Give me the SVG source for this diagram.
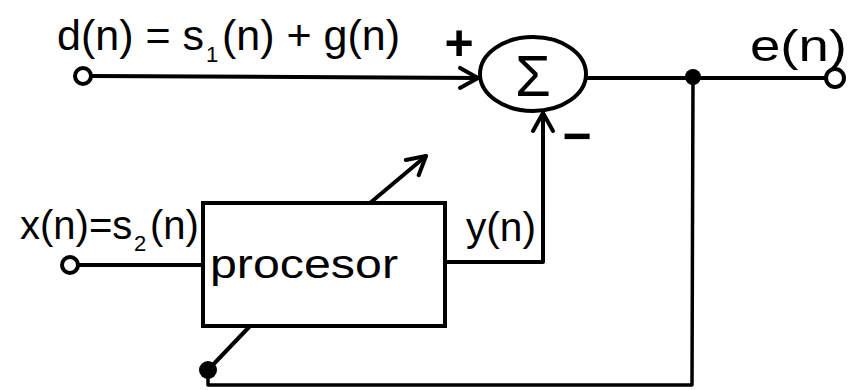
<svg xmlns="http://www.w3.org/2000/svg" width="863" height="390" viewBox="0 0 863 390">
<style>
.ln{fill:none;stroke:#000;stroke-width:4;stroke-linecap:round;stroke-linejoin:round}
.port{fill:#fff;stroke:#000;stroke-width:4}
.dot{fill:#000}
.lbl{font-family:"Liberation Sans","DejaVu Sans",sans-serif;fill:#000}
</style>
<defs>
<marker id="arr" markerUnits="userSpaceOnUse" markerWidth="40" markerHeight="40" viewBox="-30 -20 40 40" refX="0" refY="0" orient="auto">
<path d="M-18,-10 L0,0 L-18,10" fill="none" stroke="#000" stroke-width="4" stroke-linecap="round" stroke-linejoin="round"/>
</marker>
</defs>
<rect width="863" height="390" fill="#fff"/>
<g id="connectors">
<path class="ln" d="M91,76 L478,78" marker-end="url(#arr)"/>
<path class="ln" d="M587,78 L826,78"/>
<path class="ln" d="M445,262 L543,262 L543,113" marker-end="url(#arr)"/>
<path class="ln" d="M78,265 L203,265"/>
<path class="ln" d="M693,77 L692,385 L208,385 L208,372" style="stroke-width:3.5"/>
<path class="ln" d="M208,370 L250,326"/>
<path class="ln" d="M370,203 L426,156" marker-end="url(#arr)"/>
</g>
<g id="input-d">
<circle class="port" cx="83" cy="76" r="8"/>
<text class="lbl" x="57" y="50" font-size="43">d(n) = s</text>
<text class="lbl" x="206" y="62" font-size="22">1</text>
<text class="lbl" x="222" y="50" font-size="43">(n) + g(n)</text>
</g>
<g id="sum">
<ellipse cx="533" cy="74" rx="53" ry="37" fill="none" stroke="#000" stroke-width="4"/>
<text class="lbl" x="533" y="96" font-size="58" text-anchor="middle">Σ</text>
<text class="lbl" x="459" y="60" font-size="50" font-weight="bold" text-anchor="middle">+</text>
<text class="lbl" x="577" y="153" font-size="50" font-weight="bold" text-anchor="middle">−</text>
</g>
<g id="junction">
<circle class="dot" cx="693" cy="77" r="8"/>
</g>
<g id="output-e">
<circle class="port" cx="835" cy="78" r="9"/>
<text class="lbl" x="750" y="61" font-size="44" textLength="97" lengthAdjust="spacingAndGlyphs">e(n)</text>
</g>
<g id="input-x">
<circle class="port" cx="70" cy="265" r="8"/>
<text class="lbl" x="20" y="239" font-size="40">x(n)=s</text>
<text class="lbl" x="134" y="251" font-size="22">2</text>
<text class="lbl" x="150" y="239" font-size="40">(n)</text>
</g>
<g id="processor">
<rect x="203" y="203" width="242" height="123" fill="none" stroke="#000" stroke-width="4"/>
<text class="lbl" x="210" y="278" font-size="40" textLength="188" lengthAdjust="spacingAndGlyphs">procesor</text>
</g>
<g id="y-label">
<text class="lbl" x="466" y="241" font-size="40" textLength="70" lengthAdjust="spacingAndGlyphs">y(n)</text>
</g>
<g id="adapt-tail">
<circle class="dot" cx="208" cy="370" r="9"/>
</g>
</svg>
